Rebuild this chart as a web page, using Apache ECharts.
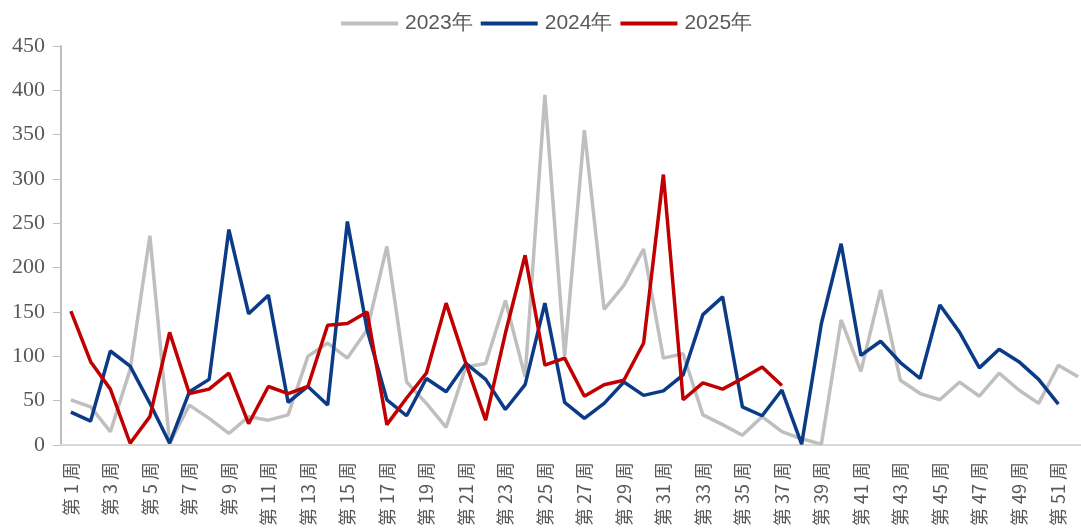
<!DOCTYPE html>
<html>
<head>
<meta charset="utf-8">
<script src="https://cdn.jsdelivr.net/npm/echarts@6/dist/echarts.min.js"></script>
<style>
html,body{margin:0;padding:0;background:#fff;overflow:hidden;}
#c{width:1081px;height:531px;}
</style>
</head>
<body>
<div id="c"></div>
<script>
var weeks = [];
for (var i = 1; i <= 52; i++) weeks.push('第' + i + '周');

var s2023 = [51, 43, 15, 85, 236, 2, 45, 30, 13, 32, 28, 34, 100, 115, 98, 130, 224, 71, 47, 20,
  88, 92, 163, 77, 395, 100, 355, 153, 180, 221, 98, 103, 34, 23, 11, 32, 15, 7, 1, 141,
  83, 175, 73, 58, 51, 71, 55, 81, 62, 47, 90, 77];
var s2024 = [37, 27, 106, 89, 47, 2, 60, 74, 243, 148, 169, 48, 66, 45, 252, 130, 51, 33, 75, 60,
  92, 74, 40, 68, 160, 48, 30, 47, 71, 56, 61, 79, 147, 167, 43, 33, 62, 1, 137, 227,
  101, 117, 93, 75, 158, 127, 87, 108, 94, 74, 46, null];
var s2025 = [151, 94, 63, 2, 32, 127, 58, 63, 81, 24, 66, 58, 66, 135, 137, 150, 23, 53, 81, 160,
  92, 28, 126, 214, 90, 98, 55, 68, 73, 115, 305, 51, 70, 63, 75, 88, 67];

var yMin = 0, yMax = 450, yStep = 50;

var chart = echarts.init(document.getElementById('c'), null, {renderer: 'canvas'});
function mk(name, data, color) {
  return {
    name: name, type: 'line', data: data, symbol: 'none', showSymbol: false,
    lineStyle: {width: 3.5, color: color}, itemStyle: {color: color},
    connectNulls: false, animation: false
  };
}
chart.setOption({
  animation: false,
  backgroundColor: '#ffffff',
  legend: {
    top: 8, left: 336,
    icon: 'rect',
    itemWidth: 57, itemHeight: 4, itemGap: 8,
    textStyle: {fontFamily: 'Liberation Sans, Arial, sans-serif', fontSize: 21, color: '#595959', padding: [0, 0, 0, 2]},
    data: ['2023年', '2024年', '2025年']
  },
  grid: {left: 61, width: 1027, top: 46, height: 399, containLabel: false, outerBoundsMode: 'none'},
  xAxis: {
    type: 'category', data: weeks, boundaryGap: true,
    axisLine: {show: true, lineStyle: {color: '#d9d9d9', width: 2}},
    axisTick: {show: false},
    axisLabel: {
      interval: 1, rotate: 90, margin: 17,
      fontFamily: 'Noto Sans CJK SC, sans-serif', fontSize: 18, color: '#595959',
      formatter: function (v) { return v.replace(/(\d+)/, ' $1 '); }
    },
    splitLine: {show: false}
  },
  yAxis: {
    type: 'value', min: yMin, max: yMax, interval: yStep,
    axisLine: {show: true, lineStyle: {color: '#bfbfbf', width: 2}},
    axisTick: {show: true, length: 8, lineStyle: {color: '#bfbfbf', width: 1}},
    axisLabel: {fontFamily: 'Liberation Serif, serif', fontSize: 22, color: '#595959', margin: 16},
    splitLine: {show: false}
  },
  series: [
    mk('2023年', s2023, '#bfbfbf'),
    mk('2024年', s2024, '#0b3b87'),
    mk('2025年', s2025, '#c00000')
  ]
});
</script>
</body>
</html>
